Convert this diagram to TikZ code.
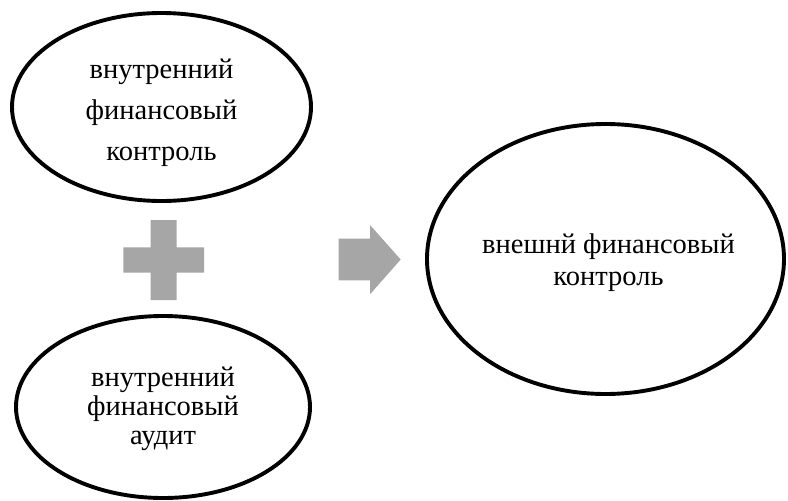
\documentclass[tikz,border=0pt]{standalone}
\usepackage{fontspec}
\setmainfont{Liberation Serif}
\usetikzlibrary{shapes.geometric}
\definecolor{shapegray}{HTML}{A6A6A6}
\tikzset{
  oval/.style={ellipse, draw=black, line width=3.9pt, inner sep=0pt},
  ovaltext/.style={inner sep=0pt, align=center, text=black},
  grayshape/.style={fill=shapegray, draw=none}
}
\begin{document}
\begin{tikzpicture}[x=1pt,y=-1pt]
\useasboundingbox (0,0) rectangle (788,501);
% ellipses
\node[oval, minimum width=299pt, minimum height=188pt] (ivk) at (161.5,107) {};
\node[oval, minimum width=294pt, minimum height=182pt] (iva) at (163,407) {};
\node[oval, minimum width=357pt, minimum height=270pt] (vfk) at (605.5,259) {};
% texts
\node[ovaltext, font=\fontsize{28.5}{41}\selectfont] (ivkt) at ([yshift=-6pt]ivk.center)
  {внутренний\\финансовый\\контроль};
\node[ovaltext, font=\fontsize{28.5}{29}\selectfont] (ivat) at ([yshift=-2pt]iva.center)
  {внутренний\\финансовый\\аудит};
\node[ovaltext, font=\fontsize{28.5}{32}\selectfont] (vfkt) at ([xshift=3pt,yshift=-4pt]vfk.center)
  {внешнй финансовый\\контроль};
% plus sign
\fill[grayshape] (150.7,220) -- (176.7,220) -- (176.7,247.3) -- (204,247.3) -- (204,272.7)
  -- (176.7,272.7) -- (176.7,300) -- (150.7,300) -- (150.7,272.7) -- (123.3,272.7)
  -- (123.3,247.3) -- (150.7,247.3) -- cycle;
% arrow
\fill[grayshape] (338.5,238.5) -- (370,238.5) -- (370,225) -- (400.7,259.5) -- (370,294.3)
  -- (370,280.3) -- (338.5,280.3) -- cycle;
\end{tikzpicture}
\end{document}
